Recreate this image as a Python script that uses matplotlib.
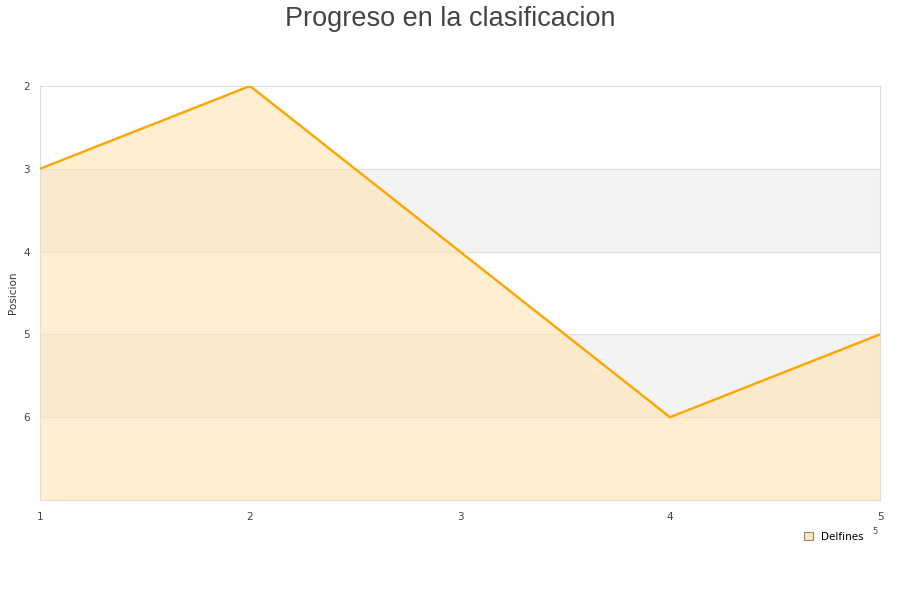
import matplotlib.pyplot as plt
from matplotlib.patches import Patch

# Datos
jornadas = [1, 2, 3, 4, 5]
posicion = [3, 2, 4, 6, 5]
equipo = "Delfines"
ticks_y = [2, 3, 4, 5, 6]

fig = plt.figure(figsize=(9, 6), dpi=100)
ax = fig.add_axes([40 / 900, 100 / 600, 840 / 900, 414 / 600])

# Bandas alternas grises
for y0 in (3, 5):
    ax.axhspan(y0, y0 + 1, color="#f3f3f3", zorder=0, lw=0)
for y in ticks_y[1:]:
    ax.axhline(y, color="#e0e0e0", lw=0.8, zorder=1)

ax.fill_between(jornadas, posicion, 7, color="#ffe3b0", alpha=0.6, lw=0, zorder=2)
ax.plot(jornadas, posicion, color="#ffa500", lw=1.7, zorder=3)

ax.set_xlim(1, 5)
ax.set_ylim(7, 2)
ax.set_xticks(jornadas)
ax.set_yticks(ticks_y)
ax.tick_params(length=0, labelsize=7.5, colors="#444444")
ax.tick_params(axis="y", pad=7)
ax.tick_params(axis="x", pad=9)
for s in ax.spines.values():
    s.set_color("#dddddd")
    s.set_linewidth(0.8)

ax.set_ylabel("Posicion", fontsize=7.5, color="#333333", labelpad=4)
fig.suptitle("Progreso en la clasificacion", fontsize=19.5, color="#444444",
             y=0.99, family="Liberation Sans")

handles = [Patch(facecolor="#ffe9c4", edgecolor="#a08060", lw=0.8)]
fig.legend(handles, [equipo], loc="center", bbox_to_anchor=(834 / 900, 1 - 537 / 600),
           frameon=False, fontsize=7.5, handlelength=0.8, handleheight=0.8,
           handletextpad=0.8)
fig.text(875 / 900, 1 - 531 / 600, "5", fontsize=6, color="#444444",
         ha="center", va="center")

fig.savefig("out.png", dpi=100)
